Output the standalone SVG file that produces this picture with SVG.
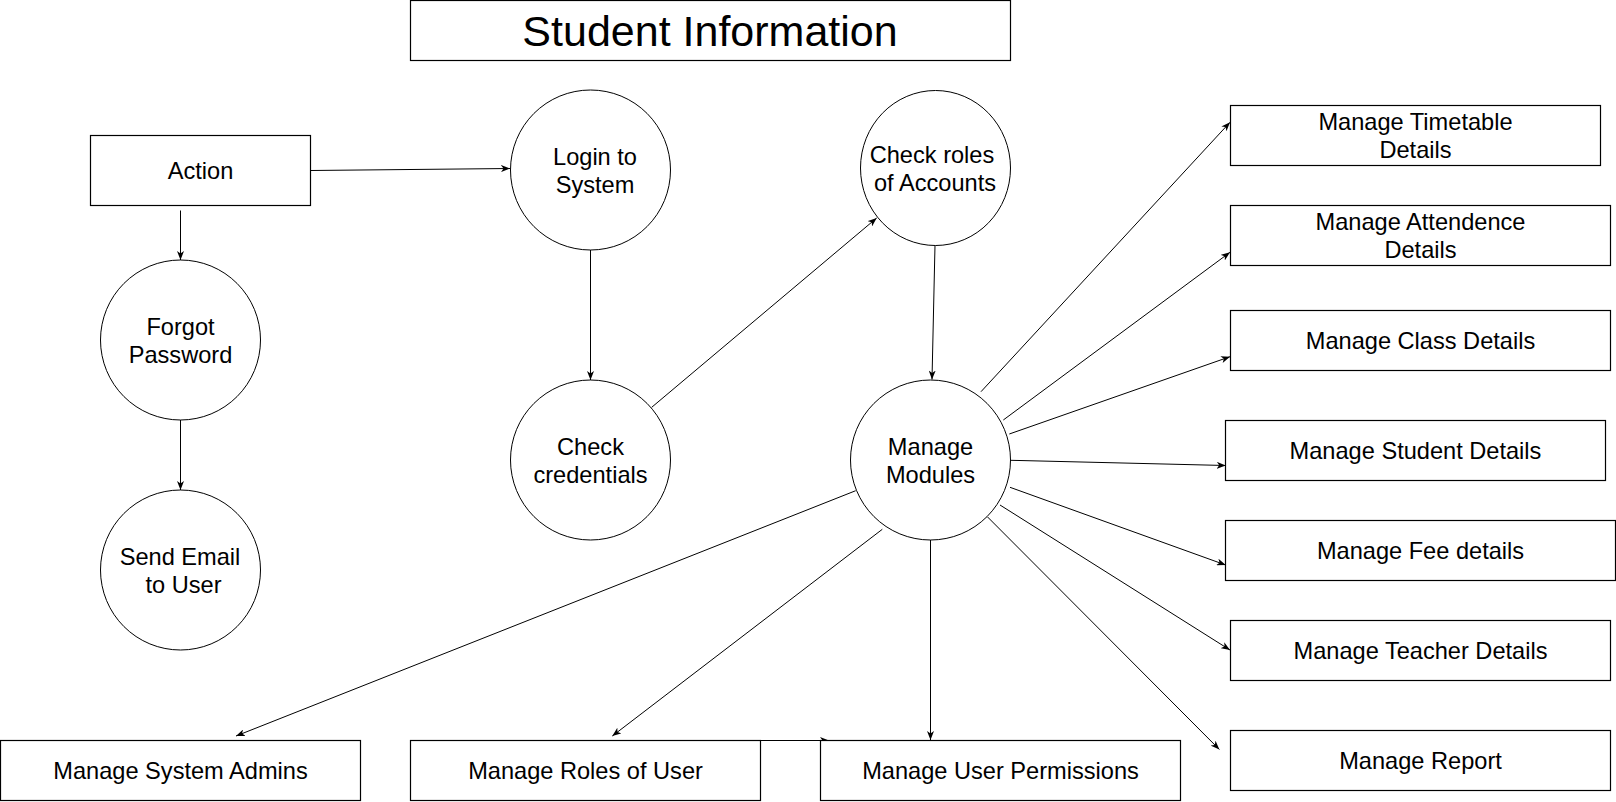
<svg xmlns="http://www.w3.org/2000/svg" width="1616" height="802" viewBox="0 0 1616 802">
<style>
.box{fill:#ffffff;stroke:#000000;stroke-width:1.2}
.circ{fill:#ffffff;stroke:#000000;stroke-width:1}
.t{font-family:"Liberation Sans",Arial,Helvetica,sans-serif;font-size:23.6px;fill:#000000;text-anchor:middle}
.title{font-family:"Liberation Sans",Arial,Helvetica,sans-serif;font-size:43px;fill:#000000;text-anchor:middle}
.c{fill:none;stroke:#000000;stroke-width:1;marker-end:url(#arr)}
</style>
<defs>
<marker id="arr" markerUnits="userSpaceOnUse" viewBox="0 0 9 7" refX="9" refY="3.5" markerWidth="9" markerHeight="7" orient="auto">
<path d="M0,0 L9,3.5 L0,7 L2.5,3.5 Z" fill="#000000"/>
</marker>
</defs>
<rect width="1616" height="802" fill="#ffffff"/>
<g id="connectors">
<path class="c" d="M310.5,170.5 L510,168.5"/>
<path class="c" d="M180.5,210.5 L180.5,260"/>
<path class="c" d="M180.5,420 L180.5,490"/>
<path class="c" d="M590.5,250 L590.5,380"/>
<path class="c" d="M651.7,407.3 L876.7,218"/>
<path class="c" d="M935,245.3 L932,379.5"/>
<path class="c" d="M981,391.7 L1230,122.3"/>
<path class="c" d="M1003.3,420 L1230,252.3"/>
<path class="c" d="M1009.3,434 L1230,356.7"/>
<path class="c" d="M1010.7,460.3 L1225.7,465.5"/>
<path class="c" d="M1010,487.3 L1225.7,565"/>
<path class="c" d="M1000,505 L1230,650"/>
<path class="c" d="M987.3,516.7 L1219.4,749.5"/>
<path class="c" d="M930.5,540 L930.5,740"/>
<path class="c" d="M882.3,529.3 L612.3,736"/>
<path class="c" d="M855.7,490.7 L236,736"/>
<path class="c" d="M760.5,740.5 L829,740.5"/>
</g>
<g id="title">
<rect class="box" x="410.5" y="0.5" width="600" height="60"/>
<text class="title" x="710" y="45.5">Student Information</text>
</g>
<g id="action">
<rect class="box" x="90.5" y="135.5" width="220" height="70"/>
<text class="t" x="200.5" y="179">Action</text>
</g>
<g id="login">
<circle class="circ" cx="590.5" cy="170" r="80"/>
<text class="t" x="595" y="165">Login to</text>
<text class="t" x="595" y="193">System</text>
</g>
<g id="forgot">
<circle class="circ" cx="180.5" cy="340" r="80"/>
<text class="t" x="180.5" y="335">Forgot</text>
<text class="t" x="180.5" y="363">Password</text>
</g>
<g id="sendemail">
<circle class="circ" cx="180.5" cy="570" r="80"/>
<text class="t" x="180" y="565">Send Email</text>
<text class="t" x="183.5" y="593">to User</text>
</g>
<g id="checkcred">
<circle class="circ" cx="590.5" cy="460" r="80"/>
<text class="t" x="590.5" y="455">Check</text>
<text class="t" x="590.5" y="483">credentials</text>
</g>
<g id="checkroles">
<ellipse class="circ" cx="935.5" cy="168" rx="75" ry="77.5"/>
<text class="t" x="932" y="162.5">Check roles</text>
<text class="t" x="935" y="191">of Accounts</text>
</g>
<g id="modules">
<circle class="circ" cx="930.5" cy="460" r="80"/>
<text class="t" x="930.5" y="455">Manage</text>
<text class="t" x="930.5" y="483">Modules</text>
</g>
<g id="timetable">
<rect class="box" x="1230.5" y="105.5" width="370" height="60"/>
<text class="t" x="1415.5" y="129.5">Manage Timetable</text>
<text class="t" x="1415.5" y="157.5">Details</text>
</g>
<g id="attendence">
<rect class="box" x="1230.5" y="205.5" width="380" height="60"/>
<text class="t" x="1420.5" y="229.5">Manage Attendence</text>
<text class="t" x="1420.5" y="257.5">Details</text>
</g>
<g id="class">
<rect class="box" x="1230.5" y="310.5" width="380" height="60"/>
<text class="t" x="1420.5" y="348.5">Manage Class Details</text>
</g>
<g id="student">
<rect class="box" x="1225.5" y="420.5" width="380" height="60"/>
<text class="t" x="1415.5" y="458.5">Manage Student Details</text>
</g>
<g id="fee">
<rect class="box" x="1225.5" y="520.5" width="390" height="60"/>
<text class="t" x="1420.5" y="558.5">Manage Fee details</text>
</g>
<g id="teacher">
<rect class="box" x="1230.5" y="620.5" width="380" height="60"/>
<text class="t" x="1420.5" y="658.5">Manage Teacher Details</text>
</g>
<g id="report">
<rect class="box" x="1230.5" y="730.5" width="380" height="60"/>
<text class="t" x="1420.5" y="768.5">Manage Report</text>
</g>
<g id="admins">
<rect class="box" x="0.5" y="740.5" width="360" height="60"/>
<text class="t" x="180.5" y="778.5">Manage System Admins</text>
</g>
<g id="roles">
<rect class="box" x="410.5" y="740.5" width="350" height="60"/>
<text class="t" x="585.5" y="778.5">Manage Roles of User</text>
</g>
<g id="permissions">
<rect class="box" x="820.5" y="740.5" width="360" height="60"/>
<text class="t" x="1000.5" y="778.5">Manage User Permissions</text>
</g>
</svg>
